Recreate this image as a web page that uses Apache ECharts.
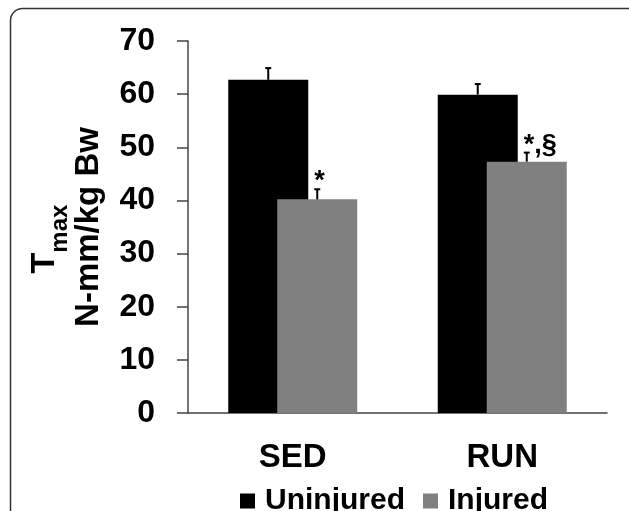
<!DOCTYPE html>
<html>
<head>
<meta charset="utf-8">
<script src="https://cdn.jsdelivr.net/npm/echarts@6/dist/echarts.min.js"></script>
<style>
html,body{margin:0;padding:0;background:#fff;}
#chart{width:629px;height:511px;}
</style>
</head>
<body>
<div id="chart"></div>
<script>
const categories = ['SED', 'RUN'];
const seriesNames = ['Uninjured', 'Injured'];
const uninjured = [62.7, 59.9];
const injured = [40.2, 47.3];
const uninjuredErr = [2.2, 2.0];
const injuredErr = [1.9, 1.7];
const uninjuredSig = ['', ''];
const injuredSig = ['*', '*,§'];
const yTicks = [0, 10, 20, 30, 40, 50, 60, 70];

const FONT = '"Liberation Sans", Arial, sans-serif';
const BAR_W = 80;
const OVERLAP = 31;
const OFF = (BAR_W - OVERLAP) / 2;

const errData = [];
const sigLookup = [];
categories.forEach((c, i) => {
  errData.push([i, uninjured[i], uninjuredErr[i], 0]);
  sigLookup.push(uninjuredSig[i]);
  errData.push([i, injured[i], injuredErr[i], 1]);
  sigLookup.push(injuredSig[i]);
});

const chart = echarts.init(document.getElementById('chart'), null, {renderer: 'canvas'});
chart.setOption({
  backgroundColor: '#fff',
  animation: false,
  graphic: [{
    type: 'rect',
    shape: {x: 10.5, y: 8.5, width: 800, height: 800, r: 12},
    style: {fill: 'none', stroke: '#333', lineWidth: 1.5},
    silent: true,
    z: -10
  }],
  grid: {left: 188, right: 22, top: 41, bottom: 98},
  legend: {
    data: seriesNames,
    left: 235,
    top: 481,
    itemWidth: 15,
    itemHeight: 15,
    itemGap: 18,
    icon: 'rect',
    textStyle: {fontFamily: FONT, fontSize: 30, fontWeight: 'bold', color: '#000', padding: [0, 0, 0, 5]}
  },
  xAxis: {
    type: 'category',
    data: categories,
    axisLine: {lineStyle: {color: '#444', width: 1.5}},
    axisTick: {length: 10, lineStyle: {color: '#444', width: 1.5}},
    axisLabel: {fontFamily: FONT, fontSize: 33, fontWeight: 'bold', color: '#000', margin: 28}
  },
  yAxis: {
    type: 'value',
    min: yTicks[0],
    max: yTicks[yTicks.length - 1],
    interval: 10,
    splitLine: {show: false},
    axisLine: {show: true, lineStyle: {color: '#444', width: 1.5}},
    axisTick: {show: true, length: 11, lineStyle: {color: '#444', width: 1.5}},
    axisLabel: {fontFamily: FONT, fontSize: 32, fontWeight: 'bold', color: '#000', margin: 33},
    name: '{t|T}{s|max}\n{n|N-mm/kg Bw}',
    nameLocation: 'middle',
    nameRotate: 90,
    nameGap: 82,
    nameTextStyle: {
      fontFamily: FONT, color: '#000', fontWeight: 'bold',
      rich: {
        t: {fontFamily: FONT, fontSize: 34, fontWeight: 'bold', color: '#000', lineHeight: 40, verticalAlign: 'bottom', padding: [0, 0, 10, 0]},
        s: {fontFamily: FONT, fontSize: 24, fontWeight: 'bold', color: '#000', lineHeight: 40, verticalAlign: 'bottom', padding: [0, 24, 0, 0]},
        n: {fontFamily: FONT, fontSize: 33, fontWeight: 'bold', color: '#000', lineHeight: 34}
      }
    }
  },
  series: [
    {
      name: seriesNames[0], type: 'bar', data: uninjured,
      barWidth: BAR_W, barGap: (-OVERLAP / BAR_W * 100) + '%',
      itemStyle: {color: '#000'}
    },
    {
      name: seriesNames[1], type: 'bar', data: injured,
      barWidth: BAR_W,
      itemStyle: {color: '#808080'}
    },
    {
      type: 'custom',
      data: errData,
      z: 10,
      renderItem: function (params, api) {
        const ci = api.value(0), v = api.value(1), e = api.value(2), s = api.value(3);
        const base = api.coord([ci, v]);
        const top = api.coord([ci, v + e]);
        const x = base[0] + (s === 0 ? -OFF : OFF);
        const children = [
          {type: 'line', shape: {x1: x, y1: base[1], x2: x, y2: top[1]}, style: {stroke: '#000', lineWidth: 2}},
          {type: 'line', shape: {x1: x - 3, y1: top[1], x2: x + 3, y2: top[1]}, style: {stroke: '#000', lineWidth: 2}}
        ];
        const sig = sigLookup[params.dataIndex];
        if (sig) {
          children.push({type: 'text', x: x - 3, y: top[1] + 6,
            style: {text: sig, fontFamily: FONT, fontSize: 27, fontWeight: 'bold', fill: '#000', align: 'left', verticalAlign: 'bottom'}});
        }
        return {type: 'group', children: children};
      }
    }
  ]
});
</script>
</body>
</html>
